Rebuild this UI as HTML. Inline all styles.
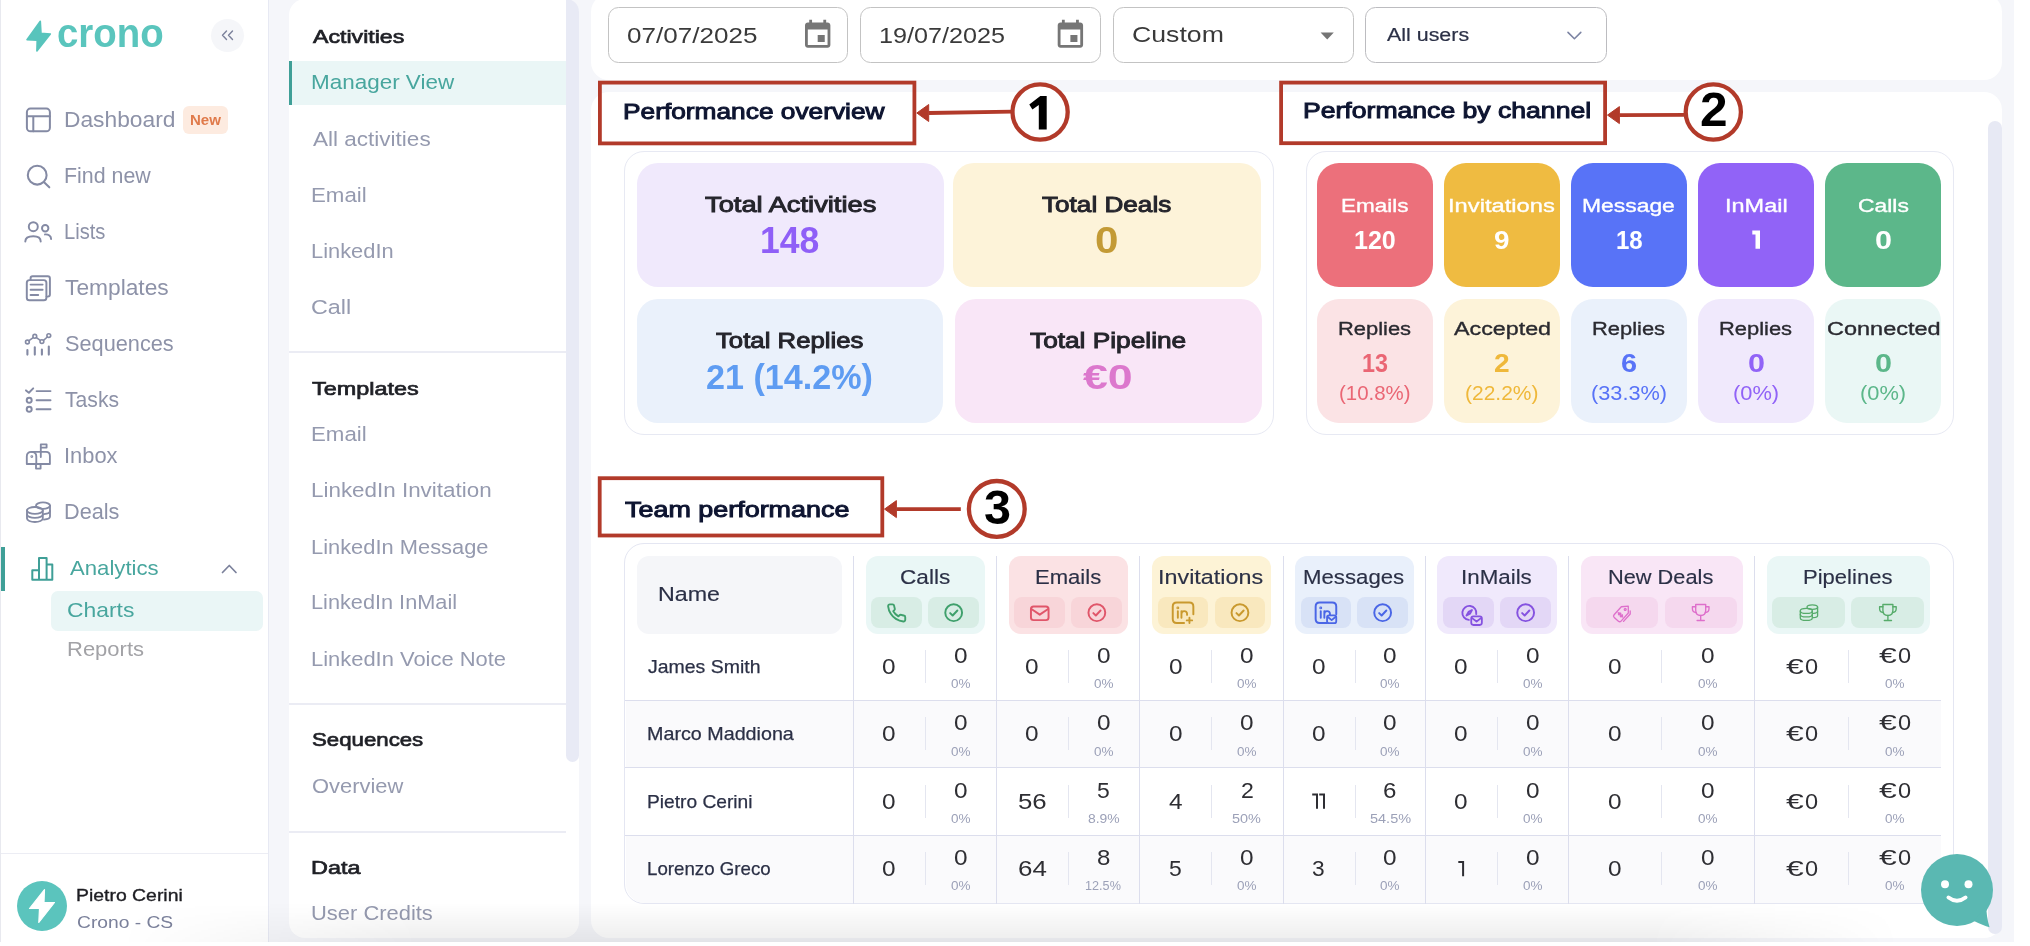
<!DOCTYPE html>
<html><head><meta charset="utf-8"><title>Crono Analytics</title>
<style>
html,body{margin:0;padding:0;background:#fff;}
body{width:2030px;height:946px;overflow:hidden;position:relative;font-family:"Liberation Sans", sans-serif;}
#app{position:absolute;left:0;top:0;width:2014px;height:941.5px;background:#f5f6fa;overflow:hidden;}
.b{position:absolute;}
.t{position:absolute;white-space:nowrap;transform-origin:0 0;display:block;}
#ov{position:absolute;left:0;top:0;}
#fade{position:absolute;left:0;top:903px;width:2014px;height:38.5px;background:linear-gradient(to bottom,rgba(0,0,0,0),rgba(0,0,0,0.07));-webkit-mask-image:linear-gradient(to right,rgba(0,0,0,0) 120px,rgba(0,0,0,1) 420px,rgba(0,0,0,1) 1650px,rgba(0,0,0,0) 1900px);mask-image:linear-gradient(to right,rgba(0,0,0,0) 120px,rgba(0,0,0,1) 420px,rgba(0,0,0,1) 1650px,rgba(0,0,0,0) 1900px);}
</style></head><body><div id="app">
<div class="b " style="left:0.00px;top:0.00px;width:268.50px;height:946.00px;background:#fff;"></div>
<div class="b " style="left:0.00px;top:0.00px;width:1.00px;height:946.00px;background:#e8e9ef;"></div>
<div class="b " style="left:268.00px;top:0.00px;width:1.00px;height:946.00px;background:#e7e9f3;"></div>
<div class="b " style="left:1.00px;top:852.50px;width:267.00px;height:1.30px;background:#ecedf4;"></div>
<span class="t " style="left:56.96px;top:14.00px;font-size:40.3px;line-height:40.3px;color:#5ac5bd;transform:scaleX(0.9530);font-weight:700;">crono</span>
<div class="b " style="left:210.50px;top:18.50px;width:33.00px;height:33.00px;background:#f5f6f9;border-radius:17px;"></div>
<span class="t " style="left:64.08px;top:110.00px;font-size:21.5px;line-height:21.5px;color:#8d92a8;transform:scaleX(1.0596);">Dashboard</span>
<span class="t " style="left:64.19px;top:166.00px;font-size:21.5px;line-height:21.5px;color:#8d92a8;transform:scaleX(0.9945);">Find new</span>
<span class="t " style="left:64.29px;top:222.00px;font-size:21.5px;line-height:21.5px;color:#8d92a8;transform:scaleX(0.9374);">Lists</span>
<span class="t " style="left:65.44px;top:278.00px;font-size:21.5px;line-height:21.5px;color:#8d92a8;transform:scaleX(1.0583);">Templates</span>
<span class="t " style="left:64.92px;top:334.00px;font-size:21.5px;line-height:21.5px;color:#8d92a8;transform:scaleX(1.0105);">Sequences</span>
<span class="t " style="left:65.48px;top:390.00px;font-size:21.5px;line-height:21.5px;color:#8d92a8;transform:scaleX(0.9842);">Tasks</span>
<span class="t " style="left:63.93px;top:446.00px;font-size:21.5px;line-height:21.5px;color:#8d92a8;transform:scaleX(1.0175);">Inbox</span>
<span class="t " style="left:64.17px;top:502.00px;font-size:21.5px;line-height:21.5px;color:#8d92a8;transform:scaleX(1.0084);">Deals</span>
<div class="b " style="left:183.00px;top:106.00px;width:44.50px;height:27.50px;background:#fdebe0;border-radius:6px;"></div>
<span class="t " style="left:189.52px;top:114.00px;font-size:13.8px;line-height:13.8px;color:#e07a4a;transform:scaleX(1.0897);font-weight:700;">New</span>
<div class="b " style="left:0.80px;top:547.00px;width:3.80px;height:43.50px;background:#3f9f97;"></div>
<span class="t " style="left:69.90px;top:558.00px;font-size:20.3px;line-height:20.3px;color:#48a69e;transform:scaleX(1.0921);">Analytics</span>
<div class="b " style="left:51.00px;top:591.00px;width:211.50px;height:39.50px;background:#eaf6f6;border-radius:7px;"></div>
<span class="t " style="left:67.05px;top:600.00px;font-size:20.3px;line-height:20.3px;color:#48a69e;transform:scaleX(1.1282);">Charts</span>
<span class="t " style="left:66.74px;top:639.00px;font-size:20.3px;line-height:20.3px;color:#a2a2a6;transform:scaleX(1.0842);">Reports</span>
<div class="b " style="left:17.00px;top:881.00px;width:50.00px;height:50.00px;background:#5bc4bd;border-radius:25px;"></div>
<span class="t " style="left:76.45px;top:887.00px;font-size:17.2px;line-height:17.2px;color:#1d1d22;transform:scaleX(1.1291);-webkit-text-stroke:0.35px #1d1d22;">Pietro Cerini</span>
<span class="t " style="left:77.04px;top:914.00px;font-size:17.2px;line-height:17.2px;color:#7b819b;transform:scaleX(1.1189);">Crono - CS</span>
<div class="b sub" style="left:289.00px;top:-1.00px;width:290.00px;height:939.00px;background:#fff;border-radius:16px;overflow:hidden;"></div>
<div class="b " style="left:566.00px;top:-1.00px;width:13.00px;height:763.00px;background:#e8eaf5;border-radius:0 13px 6.5px 6.5px;"></div>
<div class="b " style="left:289.00px;top:61.00px;width:277.00px;height:44.00px;background:#eaf6f6;"></div>
<div class="b " style="left:289.00px;top:61.00px;width:2.70px;height:44.00px;background:#3f9f97;"></div>
<div class="b " style="left:289.00px;top:351.30px;width:277.00px;height:1.40px;background:#ebecf4;"></div>
<div class="b " style="left:289.00px;top:703.30px;width:277.00px;height:1.40px;background:#ebecf4;"></div>
<div class="b " style="left:289.00px;top:831.30px;width:277.00px;height:1.40px;background:#ebecf4;"></div>
<span class="t " style="left:312.50px;top:28.00px;font-size:18.6px;line-height:18.6px;color:#1f2026;transform:scaleX(1.2444);-webkit-text-stroke:0.7px #1f2026;">Activities</span>
<span class="t " style="left:310.70px;top:73.00px;font-size:19.3px;line-height:19.3px;color:#48a69e;transform:scaleX(1.1647);">Manager View</span>
<span class="t " style="left:312.50px;top:130.00px;font-size:19.3px;line-height:19.3px;color:#959aaf;transform:scaleX(1.1680);">All activities</span>
<span class="t " style="left:310.72px;top:186.00px;font-size:19.3px;line-height:19.3px;color:#959aaf;transform:scaleX(1.1551);">Email</span>
<span class="t " style="left:310.75px;top:242.00px;font-size:19.3px;line-height:19.3px;color:#959aaf;transform:scaleX(1.1332);">LinkedIn</span>
<span class="t " style="left:311.33px;top:298.00px;font-size:19.3px;line-height:19.3px;color:#959aaf;transform:scaleX(1.2106);">Call</span>
<span class="t " style="left:312.03px;top:380.00px;font-size:18.6px;line-height:18.6px;color:#1f2026;transform:scaleX(1.2591);-webkit-text-stroke:0.7px #1f2026;">Templates</span>
<span class="t " style="left:310.72px;top:425.00px;font-size:19.3px;line-height:19.3px;color:#959aaf;transform:scaleX(1.1551);">Email</span>
<span class="t " style="left:310.71px;top:481.00px;font-size:19.3px;line-height:19.3px;color:#959aaf;transform:scaleX(1.1620);">LinkedIn Invitation</span>
<span class="t " style="left:310.75px;top:538.00px;font-size:19.3px;line-height:19.3px;color:#959aaf;transform:scaleX(1.1342);">LinkedIn Message</span>
<span class="t " style="left:310.76px;top:593.00px;font-size:19.3px;line-height:19.3px;color:#959aaf;transform:scaleX(1.1260);">LinkedIn InMail</span>
<span class="t " style="left:310.74px;top:650.00px;font-size:19.3px;line-height:19.3px;color:#959aaf;transform:scaleX(1.1373);">LinkedIn Voice Note</span>
<span class="t " style="left:311.50px;top:731.00px;font-size:18.6px;line-height:18.6px;color:#1f2026;transform:scaleX(1.1953);-webkit-text-stroke:0.7px #1f2026;">Sequences</span>
<span class="t " style="left:311.51px;top:777.00px;font-size:19.3px;line-height:19.3px;color:#959aaf;transform:scaleX(1.1368);">Overview</span>
<span class="t " style="left:310.63px;top:859.00px;font-size:18.6px;line-height:18.6px;color:#1f2026;transform:scaleX(1.2580);-webkit-text-stroke:0.7px #1f2026;">Data</span>
<span class="t " style="left:310.85px;top:904.00px;font-size:19.3px;line-height:19.3px;color:#959aaf;transform:scaleX(1.1371);">User Credits</span>
<div class="b " style="left:591.00px;top:-6.00px;width:1411.00px;height:86.00px;background:#fff;border-radius:18px;"></div>
<div class="b " style="left:591.00px;top:91.50px;width:1411.00px;height:846.50px;background:#fff;border-radius:18px;"></div>
<div class="b " style="left:1988.00px;top:120.50px;width:14.00px;height:813.50px;background:#e7e9f4;border-radius:7px;"></div>
<div class="b " style="left:608.00px;top:7.30px;width:240.40px;height:55.50px;border-radius:10.5px;border:1.5px solid #c3c3c3;box-sizing:border-box;"></div>
<div class="b " style="left:860.20px;top:7.30px;width:241.00px;height:55.50px;border-radius:10.5px;border:1.5px solid #c3c3c3;box-sizing:border-box;"></div>
<div class="b " style="left:1113.00px;top:7.30px;width:240.80px;height:55.50px;border-radius:10.5px;border:1.5px solid #c3c3c3;box-sizing:border-box;"></div>
<div class="b " style="left:1365.00px;top:7.30px;width:241.80px;height:55.50px;border-radius:10.5px;border:1.5px solid #bcbcc0;box-sizing:border-box;"></div>
<span class="t " style="left:626.56px;top:24.00px;font-size:22.8px;line-height:22.8px;color:#3a3a3a;transform:scaleX(1.1435);">07/07/2025</span>
<span class="t " style="left:878.51px;top:24.00px;font-size:22.8px;line-height:22.8px;color:#3a3a3a;transform:scaleX(1.1041);">19/07/2025</span>
<span class="t " style="left:1131.67px;top:25.00px;font-size:21.5px;line-height:21.5px;color:#3a3a3a;transform:scaleX(1.2403);">Custom</span>
<span class="t " style="left:1387.00px;top:25.00px;font-size:19.2px;line-height:19.2px;color:#2b3046;transform:scaleX(1.1157);-webkit-text-stroke:0.2px #2b3046;">All users</span>
<span class="t " style="left:622.90px;top:101.00px;font-size:22.4px;line-height:22.4px;color:#0e1531;transform:scaleX(1.1742);-webkit-text-stroke:1.0px #0e1531;">Performance overview</span>
<span class="t " style="left:1303.17px;top:100.00px;font-size:22.4px;line-height:22.4px;color:#0e1531;transform:scaleX(1.1871);-webkit-text-stroke:1.0px #0e1531;">Performance by channel</span>
<span class="t " style="left:624.96px;top:499.00px;font-size:22.4px;line-height:22.4px;color:#0e1531;transform:scaleX(1.2022);-webkit-text-stroke:1.0px #0e1531;">Team performance</span>
<div class="b " style="left:624.30px;top:150.80px;width:649.50px;height:284.70px;border-radius:20px;border:1.2px solid #e7e9f3;box-sizing:border-box;"></div>
<div class="b " style="left:637.00px;top:163.00px;width:307.40px;height:124.40px;background:#f0e9fc;border-radius:21px;"></div>
<div class="b " style="left:953.40px;top:163.00px;width:307.90px;height:124.40px;background:#fdf3d9;border-radius:21px;"></div>
<div class="b " style="left:637.00px;top:299.00px;width:306.20px;height:124.30px;background:#eaf1fb;border-radius:21px;"></div>
<div class="b " style="left:954.80px;top:299.00px;width:306.80px;height:124.30px;background:#f9e6f7;border-radius:21px;"></div>
<span class="t " style="left:705.45px;top:194.00px;font-size:22.3px;line-height:22.3px;color:#25252c;transform:scaleX(1.2232);-webkit-text-stroke:0.95px #25252c;">Total Activities</span>
<span class="t " style="left:1042.48px;top:194.00px;font-size:22.3px;line-height:22.3px;color:#25252c;transform:scaleX(1.1720);-webkit-text-stroke:0.95px #25252c;">Total Deals</span>
<span class="t " style="left:716.49px;top:330.00px;font-size:22.3px;line-height:22.3px;color:#25252c;transform:scaleX(1.1547);-webkit-text-stroke:0.95px #25252c;">Total Replies</span>
<span class="t " style="left:1030.07px;top:330.00px;font-size:22.3px;line-height:22.3px;color:#25252c;transform:scaleX(1.1775);-webkit-text-stroke:0.95px #25252c;">Total Pipeline</span>
<span class="t " style="left:759.87px;top:223.00px;font-size:36px;line-height:36px;color:#8f5ff7;transform:scaleX(0.9877);font-weight:700;">148</span>
<span class="t " style="left:1095.32px;top:223.00px;font-size:36px;line-height:36px;color:#c39a35;transform:scaleX(1.1696);font-weight:700;">0</span>
<span class="t " style="left:705.61px;top:360.00px;font-size:35.5px;line-height:35.5px;color:#5e9cf2;transform:scaleX(0.9616);font-weight:700;">21 (14.2%)</span>
<span class="t " style="left:1083.48px;top:360.00px;font-size:35.5px;line-height:35.5px;color:#dc78cd;transform:scaleX(1.2590);font-weight:700;">€0</span>
<div class="b " style="left:1305.50px;top:150.80px;width:648.50px;height:284.70px;border-radius:20px;border:1.2px solid #e7e9f3;box-sizing:border-box;"></div>
<div class="b " style="left:1317.20px;top:163.00px;width:116.00px;height:124.40px;background:#ec707b;border-radius:22px;"></div>
<div class="b " style="left:1317.20px;top:299.00px;width:116.00px;height:124.30px;background:#fbe3e5;border-radius:22px;"></div>
<span class="t " style="left:1340.90px;top:197.00px;font-size:18.8px;line-height:18.8px;color:#fff;transform:scaleX(1.1984);-webkit-text-stroke:0.35px #fff;">Emails</span>
<span class="t " style="left:1354.10px;top:228.00px;font-size:25.5px;line-height:25.5px;color:#fff;transform:scaleX(0.9823);font-weight:700;">120</span>
<span class="t " style="left:1338.15px;top:320.00px;font-size:18.8px;line-height:18.8px;color:#2a2a30;transform:scaleX(1.1662);-webkit-text-stroke:0.35px #2a2a30;">Replies</span>
<span class="t " style="left:1361.95px;top:351.00px;font-size:25.5px;line-height:25.5px;color:#ea6674;transform:scaleX(0.9157);font-weight:700;">13</span>
<span class="t " style="left:1339.37px;top:384.00px;font-size:19.3px;line-height:19.3px;color:#ea6674;transform:scaleX(1.0608);">(10.8%)</span>
<div class="b " style="left:1444.20px;top:163.00px;width:116.00px;height:124.40px;background:#efbb41;border-radius:22px;"></div>
<div class="b " style="left:1444.20px;top:299.00px;width:116.00px;height:124.30px;background:#fdf3d9;border-radius:22px;"></div>
<span class="t " style="left:1448.06px;top:197.00px;font-size:18.8px;line-height:18.8px;color:#fff;transform:scaleX(1.2630);-webkit-text-stroke:0.35px #fff;">Invitations</span>
<span class="t " style="left:1494.48px;top:228.00px;font-size:25.5px;line-height:25.5px;color:#fff;transform:scaleX(1.0916);font-weight:700;">9</span>
<span class="t " style="left:1454.40px;top:320.00px;font-size:18.8px;line-height:18.8px;color:#2a2a30;transform:scaleX(1.2388);-webkit-text-stroke:0.35px #2a2a30;">Accepted</span>
<span class="t " style="left:1494.47px;top:351.00px;font-size:25.5px;line-height:25.5px;color:#efb83a;transform:scaleX(1.1029);font-weight:700;">2</span>
<span class="t " style="left:1465.44px;top:384.00px;font-size:19.3px;line-height:19.3px;color:#efb83a;transform:scaleX(1.0884);">(22.2%)</span>
<div class="b " style="left:1571.20px;top:163.00px;width:116.00px;height:124.40px;background:#5873f7;border-radius:22px;"></div>
<div class="b " style="left:1571.20px;top:299.00px;width:116.00px;height:124.30px;background:#eaf1fb;border-radius:22px;"></div>
<span class="t " style="left:1582.37px;top:197.00px;font-size:18.8px;line-height:18.8px;color:#fff;transform:scaleX(1.2181);-webkit-text-stroke:0.35px #fff;">Message</span>
<span class="t " style="left:1615.51px;top:228.00px;font-size:25.5px;line-height:25.5px;color:#fff;transform:scaleX(0.9419);font-weight:700;">18</span>
<span class="t " style="left:1592.15px;top:320.00px;font-size:18.8px;line-height:18.8px;color:#2a2a30;transform:scaleX(1.1662);-webkit-text-stroke:0.35px #2a2a30;">Replies</span>
<span class="t " style="left:1621.19px;top:351.00px;font-size:25.5px;line-height:25.5px;color:#5873f7;transform:scaleX(1.1320);font-weight:700;">6</span>
<span class="t " style="left:1591.15px;top:384.00px;font-size:19.3px;line-height:19.3px;color:#5873f7;transform:scaleX(1.1267);">(33.3%)</span>
<div class="b " style="left:1698.20px;top:163.00px;width:116.00px;height:124.40px;background:#9163f7;border-radius:22px;"></div>
<div class="b " style="left:1698.20px;top:299.00px;width:116.00px;height:124.30px;background:#f0e9fc;border-radius:22px;"></div>
<span class="t " style="left:1724.58px;top:197.00px;font-size:18.8px;line-height:18.8px;color:#fff;transform:scaleX(1.2503);-webkit-text-stroke:0.35px #fff;">InMail</span>
<span class="t " style="left:1719.15px;top:320.00px;font-size:18.8px;line-height:18.8px;color:#2a2a30;transform:scaleX(1.1662);-webkit-text-stroke:0.35px #2a2a30;">Replies</span>
<span class="t " style="left:1747.73px;top:351.00px;font-size:25.5px;line-height:25.5px;color:#9163f7;transform:scaleX(1.1971);font-weight:700;">0</span>
<span class="t " style="left:1733.14px;top:384.00px;font-size:19.3px;line-height:19.3px;color:#9163f7;transform:scaleX(1.1326);">(0%)</span>
<div class="b " style="left:1825.20px;top:163.00px;width:116.00px;height:124.40px;background:#5cb78a;border-radius:22px;"></div>
<div class="b " style="left:1825.20px;top:299.00px;width:116.00px;height:124.30px;background:#eaf7f5;border-radius:22px;"></div>
<span class="t " style="left:1857.56px;top:197.00px;font-size:18.8px;line-height:18.8px;color:#fff;transform:scaleX(1.2179);-webkit-text-stroke:0.35px #fff;">Calls</span>
<span class="t " style="left:1874.73px;top:228.00px;font-size:25.5px;line-height:25.5px;color:#fff;transform:scaleX(1.1971);font-weight:700;">0</span>
<span class="t " style="left:1826.52px;top:320.00px;font-size:18.8px;line-height:18.8px;color:#2a2a30;transform:scaleX(1.2509);-webkit-text-stroke:0.35px #2a2a30;">Connected</span>
<span class="t " style="left:1874.73px;top:351.00px;font-size:25.5px;line-height:25.5px;color:#5cb78a;transform:scaleX(1.1971);font-weight:700;">0</span>
<span class="t " style="left:1860.14px;top:384.00px;font-size:19.3px;line-height:19.3px;color:#5cb78a;transform:scaleX(1.1326);">(0%)</span>
<div class="b " style="left:624.30px;top:542.70px;width:1329.70px;height:361.60px;border-radius:20px;border:1.2px solid #e4e6f2;box-sizing:border-box;"></div>
<div class="b " style="left:625.50px;top:700.50px;width:1315.80px;height:67.50px;background:#fafafc;"></div>
<div class="b " style="left:625.50px;top:835.50px;width:1315.80px;height:67.80px;background:#fafafc;border-bottom-left-radius:19px;"></div>
<div class="b " style="left:625.00px;top:700.00px;width:1316.30px;height:1.30px;background:#dcdeed;"></div>
<div class="b " style="left:625.00px;top:767.00px;width:1316.30px;height:1.30px;background:#dcdeed;"></div>
<div class="b " style="left:625.00px;top:835.00px;width:1316.30px;height:1.30px;background:#dcdeed;"></div>
<div class="b " style="left:853.00px;top:555.50px;width:1.30px;height:348.00px;background:#dcdeed;"></div>
<div class="b " style="left:996.00px;top:555.50px;width:1.30px;height:348.00px;background:#dcdeed;"></div>
<div class="b " style="left:1139.00px;top:555.50px;width:1.30px;height:348.00px;background:#dcdeed;"></div>
<div class="b " style="left:1283.00px;top:555.50px;width:1.30px;height:348.00px;background:#dcdeed;"></div>
<div class="b " style="left:1425.00px;top:555.50px;width:1.30px;height:348.00px;background:#dcdeed;"></div>
<div class="b " style="left:1568.00px;top:555.50px;width:1.30px;height:348.00px;background:#dcdeed;"></div>
<div class="b " style="left:1754.00px;top:555.50px;width:1.30px;height:348.00px;background:#dcdeed;"></div>
<div class="b " style="left:637.00px;top:555.50px;width:205.00px;height:78.10px;background:#f5f6f9;border-radius:12px;"></div>
<span class="t " style="left:657.94px;top:585.00px;font-size:19.3px;line-height:19.3px;color:#2b3046;transform:scaleX(1.2056);-webkit-text-stroke:0.15px #2b3046;">Name</span>
<div class="b " style="left:865.50px;top:555.50px;width:119.30px;height:78.10px;background:#eaf7f6;border-radius:12px;"></div>
<span class="t " style="left:899.87px;top:568.00px;font-size:19.3px;line-height:19.3px;color:#2b3046;transform:scaleX(1.1719);-webkit-text-stroke:0.15px #2b3046;">Calls</span>
<div class="b " style="left:871.10px;top:597.30px;width:51.05px;height:30.70px;background:#d8ede5;border-radius:8px;"></div>
<div class="b " style="left:928.15px;top:597.30px;width:51.05px;height:30.70px;background:#d8ede5;border-radius:8px;"></div>
<div class="b " style="left:1008.60px;top:555.50px;width:119.40px;height:78.10px;background:#fbe2e4;border-radius:12px;"></div>
<span class="t " style="left:1034.53px;top:568.00px;font-size:19.3px;line-height:19.3px;color:#2b3046;transform:scaleX(1.1440);-webkit-text-stroke:0.15px #2b3046;">Emails</span>
<div class="b " style="left:1014.20px;top:597.30px;width:51.10px;height:30.70px;background:#f8d5d9;border-radius:8px;"></div>
<div class="b " style="left:1071.30px;top:597.30px;width:51.10px;height:30.70px;background:#f8d5d9;border-radius:8px;"></div>
<div class="b " style="left:1152.00px;top:555.50px;width:119.00px;height:78.10px;background:#fdf3d6;border-radius:12px;"></div>
<span class="t " style="left:1157.60px;top:568.00px;font-size:19.3px;line-height:19.3px;color:#2b3046;transform:scaleX(1.2102);-webkit-text-stroke:0.15px #2b3046;">Invitations</span>
<div class="b " style="left:1157.60px;top:597.30px;width:50.90px;height:30.70px;background:#f9e8be;border-radius:8px;"></div>
<div class="b " style="left:1214.50px;top:597.30px;width:50.90px;height:30.70px;background:#f9e8be;border-radius:8px;"></div>
<div class="b " style="left:1295.00px;top:555.50px;width:118.60px;height:78.10px;background:#e9f0fb;border-radius:12px;"></div>
<span class="t " style="left:1303.02px;top:568.00px;font-size:19.3px;line-height:19.3px;color:#2b3046;transform:scaleX(1.1517);-webkit-text-stroke:0.15px #2b3046;">Messages</span>
<div class="b " style="left:1300.60px;top:597.30px;width:50.70px;height:30.70px;background:#d8e2f6;border-radius:8px;"></div>
<div class="b " style="left:1357.30px;top:597.30px;width:50.70px;height:30.70px;background:#d8e2f6;border-radius:8px;"></div>
<div class="b " style="left:1437.40px;top:555.50px;width:119.40px;height:78.10px;background:#f0e9fc;border-radius:12px;"></div>
<span class="t " style="left:1460.69px;top:568.00px;font-size:19.3px;line-height:19.3px;color:#2b3046;transform:scaleX(1.1588);-webkit-text-stroke:0.15px #2b3046;">InMails</span>
<div class="b " style="left:1443.00px;top:597.30px;width:51.10px;height:30.70px;background:#e3d7f6;border-radius:8px;"></div>
<div class="b " style="left:1500.10px;top:597.30px;width:51.10px;height:30.70px;background:#e3d7f6;border-radius:8px;"></div>
<div class="b " style="left:1580.50px;top:555.50px;width:162.00px;height:78.10px;background:#f9e6f6;border-radius:12px;"></div>
<span class="t " style="left:1608.06px;top:568.00px;font-size:19.3px;line-height:19.3px;color:#2b3046;transform:scaleX(1.1296);-webkit-text-stroke:0.15px #2b3046;">New Deals</span>
<div class="b " style="left:1586.10px;top:597.30px;width:72.40px;height:30.70px;background:#f5d8ee;border-radius:8px;"></div>
<div class="b " style="left:1664.50px;top:597.30px;width:72.40px;height:30.70px;background:#f5d8ee;border-radius:8px;"></div>
<div class="b " style="left:1766.80px;top:555.50px;width:163.20px;height:78.10px;background:#eaf7f6;border-radius:12px;"></div>
<span class="t " style="left:1802.94px;top:568.00px;font-size:19.3px;line-height:19.3px;color:#2b3046;transform:scaleX(1.1427);-webkit-text-stroke:0.15px #2b3046;">Pipelines</span>
<div class="b " style="left:1772.40px;top:597.30px;width:73.00px;height:30.70px;background:#d8ede5;border-radius:8px;"></div>
<div class="b " style="left:1851.40px;top:597.30px;width:73.00px;height:30.70px;background:#d8ede5;border-radius:8px;"></div>
<span class="t " style="left:648.21px;top:657.00px;font-size:19px;line-height:19px;color:#2b3046;transform:scaleX(1.0249);-webkit-text-stroke:0.25px #2b3046;">James Smith</span>
<div class="b " style="left:925.00px;top:650.00px;width:1.20px;height:33.30px;background:#e4e6f0;"></div>
<span class="t " style="left:882.38px;top:656.00px;font-size:22.6px;line-height:22.6px;color:#2e2e33;transform:scaleX(1.0785);">0</span>
<span class="t " style="left:953.77px;top:645.00px;font-size:22.6px;line-height:22.6px;color:#2e2e33;transform:scaleX(1.0785);">0</span>
<span class="t " style="left:950.81px;top:677.00px;font-size:13.6px;line-height:13.6px;color:#9ca1b8;transform:scaleX(0.9929);">0%</span>
<div class="b " style="left:1068.00px;top:650.00px;width:1.20px;height:33.30px;background:#e4e6f0;"></div>
<span class="t " style="left:1025.38px;top:656.00px;font-size:22.6px;line-height:22.6px;color:#2e2e33;transform:scaleX(1.0785);">0</span>
<span class="t " style="left:1096.78px;top:645.00px;font-size:22.6px;line-height:22.6px;color:#2e2e33;transform:scaleX(1.0785);">0</span>
<span class="t " style="left:1093.81px;top:677.00px;font-size:13.6px;line-height:13.6px;color:#9ca1b8;transform:scaleX(0.9929);">0%</span>
<div class="b " style="left:1211.00px;top:650.00px;width:1.20px;height:33.30px;background:#e4e6f0;"></div>
<span class="t " style="left:1168.68px;top:656.00px;font-size:22.6px;line-height:22.6px;color:#2e2e33;transform:scaleX(1.0785);">0</span>
<span class="t " style="left:1240.08px;top:645.00px;font-size:22.6px;line-height:22.6px;color:#2e2e33;transform:scaleX(1.0785);">0</span>
<span class="t " style="left:1237.11px;top:677.00px;font-size:13.6px;line-height:13.6px;color:#9ca1b8;transform:scaleX(0.9929);">0%</span>
<div class="b " style="left:1355.00px;top:650.00px;width:1.20px;height:33.30px;background:#e4e6f0;"></div>
<span class="t " style="left:1311.98px;top:656.00px;font-size:22.6px;line-height:22.6px;color:#2e2e33;transform:scaleX(1.0785);">0</span>
<span class="t " style="left:1383.38px;top:645.00px;font-size:22.6px;line-height:22.6px;color:#2e2e33;transform:scaleX(1.0785);">0</span>
<span class="t " style="left:1380.41px;top:677.00px;font-size:13.6px;line-height:13.6px;color:#9ca1b8;transform:scaleX(0.9929);">0%</span>
<div class="b " style="left:1497.00px;top:650.00px;width:1.20px;height:33.30px;background:#e4e6f0;"></div>
<span class="t " style="left:1454.48px;top:656.00px;font-size:22.6px;line-height:22.6px;color:#2e2e33;transform:scaleX(1.0785);">0</span>
<span class="t " style="left:1525.88px;top:645.00px;font-size:22.6px;line-height:22.6px;color:#2e2e33;transform:scaleX(1.0785);">0</span>
<span class="t " style="left:1522.91px;top:677.00px;font-size:13.6px;line-height:13.6px;color:#9ca1b8;transform:scaleX(0.9929);">0%</span>
<div class="b " style="left:1661.00px;top:650.00px;width:1.20px;height:33.30px;background:#e4e6f0;"></div>
<span class="t " style="left:1608.08px;top:656.00px;font-size:22.6px;line-height:22.6px;color:#2e2e33;transform:scaleX(1.0785);">0</span>
<span class="t " style="left:1701.28px;top:645.00px;font-size:22.6px;line-height:22.6px;color:#2e2e33;transform:scaleX(1.0785);">0</span>
<span class="t " style="left:1698.31px;top:677.00px;font-size:13.6px;line-height:13.6px;color:#9ca1b8;transform:scaleX(0.9929);">0%</span>
<div class="b " style="left:1848.00px;top:650.00px;width:1.20px;height:33.30px;background:#e4e6f0;"></div>
<span class="t " style="left:1785.68px;top:656.00px;font-size:22.6px;line-height:22.6px;color:#2e2e33;transform:scaleX(1.4109);">€</span>
<span class="t " style="left:1804.56px;top:656.00px;font-size:22.6px;line-height:22.6px;color:#2e2e33;transform:scaleX(1.0417);">0</span>
<span class="t " style="left:1879.08px;top:645.00px;font-size:22.6px;line-height:22.6px;color:#2e2e33;transform:scaleX(1.4109);">€</span>
<span class="t " style="left:1897.96px;top:645.00px;font-size:22.6px;line-height:22.6px;color:#2e2e33;transform:scaleX(1.0417);">0</span>
<span class="t " style="left:1885.01px;top:677.00px;font-size:13.6px;line-height:13.6px;color:#9ca1b8;transform:scaleX(0.9929);">0%</span>
<span class="t " style="left:646.92px;top:724.00px;font-size:19px;line-height:19px;color:#2b3046;transform:scaleX(1.0376);-webkit-text-stroke:0.25px #2b3046;">Marco Maddiona</span>
<div class="b " style="left:925.00px;top:717.00px;width:1.20px;height:33.30px;background:#e4e6f0;"></div>
<span class="t " style="left:882.38px;top:723.00px;font-size:22.6px;line-height:22.6px;color:#2e2e33;transform:scaleX(1.0785);">0</span>
<span class="t " style="left:953.77px;top:712.00px;font-size:22.6px;line-height:22.6px;color:#2e2e33;transform:scaleX(1.0785);">0</span>
<span class="t " style="left:950.81px;top:745.00px;font-size:13.6px;line-height:13.6px;color:#9ca1b8;transform:scaleX(0.9929);">0%</span>
<div class="b " style="left:1068.00px;top:717.00px;width:1.20px;height:33.30px;background:#e4e6f0;"></div>
<span class="t " style="left:1025.38px;top:723.00px;font-size:22.6px;line-height:22.6px;color:#2e2e33;transform:scaleX(1.0785);">0</span>
<span class="t " style="left:1096.78px;top:712.00px;font-size:22.6px;line-height:22.6px;color:#2e2e33;transform:scaleX(1.0785);">0</span>
<span class="t " style="left:1093.81px;top:745.00px;font-size:13.6px;line-height:13.6px;color:#9ca1b8;transform:scaleX(0.9929);">0%</span>
<div class="b " style="left:1211.00px;top:717.00px;width:1.20px;height:33.30px;background:#e4e6f0;"></div>
<span class="t " style="left:1168.68px;top:723.00px;font-size:22.6px;line-height:22.6px;color:#2e2e33;transform:scaleX(1.0785);">0</span>
<span class="t " style="left:1240.08px;top:712.00px;font-size:22.6px;line-height:22.6px;color:#2e2e33;transform:scaleX(1.0785);">0</span>
<span class="t " style="left:1237.11px;top:745.00px;font-size:13.6px;line-height:13.6px;color:#9ca1b8;transform:scaleX(0.9929);">0%</span>
<div class="b " style="left:1355.00px;top:717.00px;width:1.20px;height:33.30px;background:#e4e6f0;"></div>
<span class="t " style="left:1311.98px;top:723.00px;font-size:22.6px;line-height:22.6px;color:#2e2e33;transform:scaleX(1.0785);">0</span>
<span class="t " style="left:1383.38px;top:712.00px;font-size:22.6px;line-height:22.6px;color:#2e2e33;transform:scaleX(1.0785);">0</span>
<span class="t " style="left:1380.41px;top:745.00px;font-size:13.6px;line-height:13.6px;color:#9ca1b8;transform:scaleX(0.9929);">0%</span>
<div class="b " style="left:1497.00px;top:717.00px;width:1.20px;height:33.30px;background:#e4e6f0;"></div>
<span class="t " style="left:1454.48px;top:723.00px;font-size:22.6px;line-height:22.6px;color:#2e2e33;transform:scaleX(1.0785);">0</span>
<span class="t " style="left:1525.88px;top:712.00px;font-size:22.6px;line-height:22.6px;color:#2e2e33;transform:scaleX(1.0785);">0</span>
<span class="t " style="left:1522.91px;top:745.00px;font-size:13.6px;line-height:13.6px;color:#9ca1b8;transform:scaleX(0.9929);">0%</span>
<div class="b " style="left:1661.00px;top:717.00px;width:1.20px;height:33.30px;background:#e4e6f0;"></div>
<span class="t " style="left:1608.08px;top:723.00px;font-size:22.6px;line-height:22.6px;color:#2e2e33;transform:scaleX(1.0785);">0</span>
<span class="t " style="left:1701.28px;top:712.00px;font-size:22.6px;line-height:22.6px;color:#2e2e33;transform:scaleX(1.0785);">0</span>
<span class="t " style="left:1698.31px;top:745.00px;font-size:13.6px;line-height:13.6px;color:#9ca1b8;transform:scaleX(0.9929);">0%</span>
<div class="b " style="left:1848.00px;top:717.00px;width:1.20px;height:33.30px;background:#e4e6f0;"></div>
<span class="t " style="left:1785.68px;top:723.00px;font-size:22.6px;line-height:22.6px;color:#2e2e33;transform:scaleX(1.4109);">€</span>
<span class="t " style="left:1804.56px;top:723.00px;font-size:22.6px;line-height:22.6px;color:#2e2e33;transform:scaleX(1.0417);">0</span>
<span class="t " style="left:1879.08px;top:712.00px;font-size:22.6px;line-height:22.6px;color:#2e2e33;transform:scaleX(1.4109);">€</span>
<span class="t " style="left:1897.96px;top:712.00px;font-size:22.6px;line-height:22.6px;color:#2e2e33;transform:scaleX(1.0417);">0</span>
<span class="t " style="left:1885.01px;top:745.00px;font-size:13.6px;line-height:13.6px;color:#9ca1b8;transform:scaleX(0.9929);">0%</span>
<span class="t " style="left:646.97px;top:792.00px;font-size:19px;line-height:19px;color:#2b3046;transform:scaleX(1.0094);-webkit-text-stroke:0.25px #2b3046;">Pietro Cerini</span>
<div class="b " style="left:925.00px;top:784.50px;width:1.20px;height:33.30px;background:#e4e6f0;"></div>
<span class="t " style="left:882.38px;top:791.00px;font-size:22.6px;line-height:22.6px;color:#2e2e33;transform:scaleX(1.0785);">0</span>
<span class="t " style="left:953.77px;top:780.00px;font-size:22.6px;line-height:22.6px;color:#2e2e33;transform:scaleX(1.0785);">0</span>
<span class="t " style="left:950.81px;top:812.00px;font-size:13.6px;line-height:13.6px;color:#9ca1b8;transform:scaleX(0.9929);">0%</span>
<div class="b " style="left:1068.00px;top:784.50px;width:1.20px;height:33.30px;background:#e4e6f0;"></div>
<span class="t " style="left:1017.87px;top:791.00px;font-size:22.6px;line-height:22.6px;color:#2e2e33;transform:scaleX(1.1427);">56</span>
<span class="t " style="left:1097.23px;top:780.00px;font-size:22.6px;line-height:22.6px;color:#2e2e33;transform:scaleX(1.0154);">5</span>
<span class="t " style="left:1087.67px;top:812.00px;font-size:13.6px;line-height:13.6px;color:#9ca1b8;transform:scaleX(1.0227);">8.9%</span>
<div class="b " style="left:1211.00px;top:784.50px;width:1.20px;height:33.30px;background:#e4e6f0;"></div>
<span class="t " style="left:1168.86px;top:791.00px;font-size:22.6px;line-height:22.6px;color:#2e2e33;transform:scaleX(1.0777);">4</span>
<span class="t " style="left:1240.50px;top:780.00px;font-size:22.6px;line-height:22.6px;color:#2e2e33;transform:scaleX(1.0211);">2</span>
<span class="t " style="left:1232.42px;top:812.00px;font-size:13.6px;line-height:13.6px;color:#9ca1b8;transform:scaleX(1.0619);">50%</span>
<div class="b " style="left:1355.00px;top:784.50px;width:1.20px;height:33.30px;background:#e4e6f0;"></div>
<span class="t " style="left:1383.40px;top:780.00px;font-size:22.6px;line-height:22.6px;color:#2e2e33;transform:scaleX(1.0658);">6</span>
<span class="t " style="left:1369.62px;top:812.00px;font-size:13.6px;line-height:13.6px;color:#9ca1b8;transform:scaleX(1.0656);">54.5%</span>
<div class="b " style="left:1497.00px;top:784.50px;width:1.20px;height:33.30px;background:#e4e6f0;"></div>
<span class="t " style="left:1454.48px;top:791.00px;font-size:22.6px;line-height:22.6px;color:#2e2e33;transform:scaleX(1.0785);">0</span>
<span class="t " style="left:1525.88px;top:780.00px;font-size:22.6px;line-height:22.6px;color:#2e2e33;transform:scaleX(1.0785);">0</span>
<span class="t " style="left:1522.91px;top:812.00px;font-size:13.6px;line-height:13.6px;color:#9ca1b8;transform:scaleX(0.9929);">0%</span>
<div class="b " style="left:1661.00px;top:784.50px;width:1.20px;height:33.30px;background:#e4e6f0;"></div>
<span class="t " style="left:1608.08px;top:791.00px;font-size:22.6px;line-height:22.6px;color:#2e2e33;transform:scaleX(1.0785);">0</span>
<span class="t " style="left:1701.28px;top:780.00px;font-size:22.6px;line-height:22.6px;color:#2e2e33;transform:scaleX(1.0785);">0</span>
<span class="t " style="left:1698.31px;top:812.00px;font-size:13.6px;line-height:13.6px;color:#9ca1b8;transform:scaleX(0.9929);">0%</span>
<div class="b " style="left:1848.00px;top:784.50px;width:1.20px;height:33.30px;background:#e4e6f0;"></div>
<span class="t " style="left:1785.68px;top:791.00px;font-size:22.6px;line-height:22.6px;color:#2e2e33;transform:scaleX(1.4109);">€</span>
<span class="t " style="left:1804.56px;top:791.00px;font-size:22.6px;line-height:22.6px;color:#2e2e33;transform:scaleX(1.0417);">0</span>
<span class="t " style="left:1879.08px;top:780.00px;font-size:22.6px;line-height:22.6px;color:#2e2e33;transform:scaleX(1.4109);">€</span>
<span class="t " style="left:1897.96px;top:780.00px;font-size:22.6px;line-height:22.6px;color:#2e2e33;transform:scaleX(1.0417);">0</span>
<span class="t " style="left:1885.01px;top:812.00px;font-size:13.6px;line-height:13.6px;color:#9ca1b8;transform:scaleX(0.9929);">0%</span>
<span class="t " style="left:647.00px;top:859.00px;font-size:19px;line-height:19px;color:#2b3046;transform:scaleX(0.9846);-webkit-text-stroke:0.25px #2b3046;">Lorenzo Greco</span>
<div class="b " style="left:925.00px;top:852.00px;width:1.20px;height:33.30px;background:#e4e6f0;"></div>
<span class="t " style="left:882.38px;top:858.00px;font-size:22.6px;line-height:22.6px;color:#2e2e33;transform:scaleX(1.0785);">0</span>
<span class="t " style="left:953.77px;top:847.00px;font-size:22.6px;line-height:22.6px;color:#2e2e33;transform:scaleX(1.0785);">0</span>
<span class="t " style="left:950.81px;top:879.00px;font-size:13.6px;line-height:13.6px;color:#9ca1b8;transform:scaleX(0.9929);">0%</span>
<div class="b " style="left:1068.00px;top:852.00px;width:1.20px;height:33.30px;background:#e4e6f0;"></div>
<span class="t " style="left:1017.55px;top:858.00px;font-size:22.6px;line-height:22.6px;color:#2e2e33;transform:scaleX(1.1470);">64</span>
<span class="t " style="left:1096.87px;top:847.00px;font-size:22.6px;line-height:22.6px;color:#2e2e33;transform:scaleX(1.0638);">8</span>
<span class="t " style="left:1085.40px;top:879.00px;font-size:13.6px;line-height:13.6px;color:#9ca1b8;transform:scaleX(0.9309);">12.5%</span>
<div class="b " style="left:1211.00px;top:852.00px;width:1.20px;height:33.30px;background:#e4e6f0;"></div>
<span class="t " style="left:1169.13px;top:858.00px;font-size:22.6px;line-height:22.6px;color:#2e2e33;transform:scaleX(1.0154);">5</span>
<span class="t " style="left:1240.08px;top:847.00px;font-size:22.6px;line-height:22.6px;color:#2e2e33;transform:scaleX(1.0785);">0</span>
<span class="t " style="left:1237.11px;top:879.00px;font-size:13.6px;line-height:13.6px;color:#9ca1b8;transform:scaleX(0.9929);">0%</span>
<div class="b " style="left:1355.00px;top:852.00px;width:1.20px;height:33.30px;background:#e4e6f0;"></div>
<span class="t " style="left:1312.49px;top:858.00px;font-size:22.6px;line-height:22.6px;color:#2e2e33;transform:scaleX(1.0061);">3</span>
<span class="t " style="left:1383.38px;top:847.00px;font-size:22.6px;line-height:22.6px;color:#2e2e33;transform:scaleX(1.0785);">0</span>
<span class="t " style="left:1380.41px;top:879.00px;font-size:13.6px;line-height:13.6px;color:#9ca1b8;transform:scaleX(0.9929);">0%</span>
<div class="b " style="left:1497.00px;top:852.00px;width:1.20px;height:33.30px;background:#e4e6f0;"></div>
<span class="t " style="left:1525.88px;top:847.00px;font-size:22.6px;line-height:22.6px;color:#2e2e33;transform:scaleX(1.0785);">0</span>
<span class="t " style="left:1522.91px;top:879.00px;font-size:13.6px;line-height:13.6px;color:#9ca1b8;transform:scaleX(0.9929);">0%</span>
<div class="b " style="left:1661.00px;top:852.00px;width:1.20px;height:33.30px;background:#e4e6f0;"></div>
<span class="t " style="left:1608.08px;top:858.00px;font-size:22.6px;line-height:22.6px;color:#2e2e33;transform:scaleX(1.0785);">0</span>
<span class="t " style="left:1701.28px;top:847.00px;font-size:22.6px;line-height:22.6px;color:#2e2e33;transform:scaleX(1.0785);">0</span>
<span class="t " style="left:1698.31px;top:879.00px;font-size:13.6px;line-height:13.6px;color:#9ca1b8;transform:scaleX(0.9929);">0%</span>
<div class="b " style="left:1848.00px;top:852.00px;width:1.20px;height:33.30px;background:#e4e6f0;"></div>
<span class="t " style="left:1785.68px;top:858.00px;font-size:22.6px;line-height:22.6px;color:#2e2e33;transform:scaleX(1.4109);">€</span>
<span class="t " style="left:1804.56px;top:858.00px;font-size:22.6px;line-height:22.6px;color:#2e2e33;transform:scaleX(1.0417);">0</span>
<span class="t " style="left:1879.08px;top:847.00px;font-size:22.6px;line-height:22.6px;color:#2e2e33;transform:scaleX(1.4109);">€</span>
<span class="t " style="left:1897.96px;top:847.00px;font-size:22.6px;line-height:22.6px;color:#2e2e33;transform:scaleX(1.0417);">0</span>
<span class="t " style="left:1885.01px;top:879.00px;font-size:13.6px;line-height:13.6px;color:#9ca1b8;transform:scaleX(0.9929);">0%</span>
<div id="fade"></div>
<svg id="ov" width="2014" height="942" viewBox="0 0 2014 942">
<path d="M40.3 21.2 L27 39.6 L37.2 40.3 L36.9 51 L50.3 34 L41 33.4 Z" fill="#58c4bc" stroke="#58c4bc" stroke-width="1.6" stroke-linejoin="round"/>
<path d="M226.5 31 L222.5 35.3 L226.5 39.6 M232.5 31 L228.5 35.3 L232.5 39.6" fill="none" stroke="#7b819b" stroke-width="1.4" stroke-linecap="round" stroke-linejoin="round"/>
<path d="M222.5 572.5 L229.3 565.5 L236 572.5" fill="none" stroke="#7b819b" stroke-width="1.7" stroke-linecap="round" stroke-linejoin="round"/>
<path d="M44.5 889.5 L29.5 908.5 L39.5 908.5 L38.8 922.5 L54.5 902.5 L44 902.5 Z" fill="#fff" stroke="#fff" stroke-width="1.2" stroke-linejoin="round"/>
<path transform="translate(800.77,18.30) scale(1.41,1.4)" d="M17 12h-5v5h5v-5zM16 1v2H8V1H6v2H5c-1.11 0-1.99.9-1.99 2L3 19c0 1.1.89 2 2 2h14c1.1 0 2-.9 2-2V5c0-1.1-.9-2-2-2h-1V1h-2zm3 18H5V8h14v11z" fill="#767676"/>
<path transform="translate(1053.47,18.30) scale(1.41,1.4)" d="M17 12h-5v5h5v-5zM16 1v2H8V1H6v2H5c-1.11 0-1.99.9-1.99 2L3 19c0 1.1.89 2 2 2h14c1.1 0 2-.9 2-2V5c0-1.1-.9-2-2-2h-1V1h-2zm3 18H5V8h14v11z" fill="#767676"/>
<path d="M1320.6 32.6 L1333.8 32.6 L1327.2 39.4 Z" fill="#757575"/>
<path d="M1568 32.4 L1574.4 38.7 L1580.8 32.4" fill="none" stroke="#7c84a3" stroke-width="1.6" stroke-linecap="round" stroke-linejoin="round"/>
<path d="M1752.30 230.5 H1760.00 V248.7 H1755.50 V234.4 H1752.30 Z" fill="#fff"/>
<rect x="599.9" y="82.6" width="314.5" height="60.8" fill="none" stroke="#b23a2a" stroke-width="3.8"/>
<rect x="1281.1" y="82.6" width="324" height="60.6" fill="none" stroke="#b23a2a" stroke-width="3.8"/>
<rect x="599.7" y="478.2" width="282.6" height="57.3" fill="none" stroke="#b23a2a" stroke-width="3.8"/>
<path d="M916.8 113 L928.7 104.5 L928.7 121.5 Z" fill="#b23a2a" stroke="#b23a2a" stroke-width="1" stroke-linejoin="round"/>
<path d="M928.8 113 L1012 111.6" stroke="#b23a2a" stroke-width="3.8" fill="none"/>
<circle cx="1040.1" cy="112" r="27.6" fill="#fff" stroke="#b23a2a" stroke-width="4.3"/>
<path d="M1607.5 115.1 L1619.4 106.6 L1619.4 123.6 Z" fill="#b23a2a" stroke="#b23a2a" stroke-width="1" stroke-linejoin="round"/>
<path d="M1619.5 115.1 L1686 114.8" stroke="#b23a2a" stroke-width="3.8" fill="none"/>
<circle cx="1713.3" cy="112" r="27.6" fill="#fff" stroke="#b23a2a" stroke-width="4.3"/>
<path d="M884.5 509.1 L896.4 500.6 L896.4 517.6 Z" fill="#b23a2a" stroke="#b23a2a" stroke-width="1" stroke-linejoin="round"/>
<path d="M896.5 509.1 L960.8 509.2" stroke="#b23a2a" stroke-width="3.8" fill="none"/>
<circle cx="996.8" cy="508.9" r="27.9" fill="#fff" stroke="#b23a2a" stroke-width="4.3"/>
<path d="M1040.3 96 L1046.7 96 L1046.7 129.5 L1038.8 129.5 L1038.8 105 L1032.4 109.4 L1029.3 104.4 Z" fill="#000"/>
<path d="M1312.20 793.60 H1318.00 V808.80 H1316.00 V795.40 H1312.20 Z" fill="#2e2e33"/>
<path d="M1319.20 793.60 H1325.00 V808.80 H1323.00 V795.40 H1319.20 Z" fill="#2e2e33"/>
<path d="M1458.30 861.10 H1464.10 V876.30 H1462.10 V862.90 H1458.30 Z" fill="#2e2e33"/>
<circle cx="1957" cy="890" r="36" fill="#5ab8b2"/>
<path d="M1974 921 Q1983 925.5 1989.6 927.2 Q1986 916 1986.5 905 Z" fill="#5ab8b2"/>
<circle cx="1945" cy="884.3" r="4" fill="#fff"/><circle cx="1968.5" cy="884.3" r="4" fill="#fff"/>
<path d="M1948.5 897.5 Q1957 904 1965.5 897.5" fill="none" stroke="#fff" stroke-width="4" stroke-linecap="round"/>
<g fill="none" stroke="#848aa4" stroke-width="2.0" stroke-linecap="round" stroke-linejoin="round" ><rect x="26.9" y="108.6" width="23" height="22.7" rx="3.6"/><path d="M26.9 116.2 H49.9 M33.3 116.2 V131.2"/></g>
<g fill="none" stroke="#848aa4" stroke-width="2.05" stroke-linecap="round" stroke-linejoin="round" ><circle cx="37.2" cy="175.2" r="9.4"/><path d="M44.1 182.3 L49.3 187.3"/></g>
<g fill="none" stroke="#848aa4" stroke-width="1.95" stroke-linecap="round" stroke-linejoin="round" ><circle cx="33.3" cy="226.7" r="4.5"/><path d="M25.3 241.6 C25.3 237.6 28.6 236.2 33.3 236.2 C38 236.2 40.7 237.6 40.7 241.6"/><circle cx="45.2" cy="228.2" r="3.2"/><path d="M45 234.4 C48.6 234.2 51.1 236.1 51.1 239"/></g>
<g fill="none" stroke="#848aa4" stroke-width="1.95" stroke-linecap="round" stroke-linejoin="round" ><rect x="26.8" y="280.1" width="19.6" height="20.2" rx="2.6"/><path d="M30.6 279.8 V278.2 Q30.6 276.3 32.6 276.3 H47.8 Q49.9 276.3 49.9 278.4 V294.6 Q49.9 296.6 47.9 296.6 H46.6"/><path d="M30.6 284.6 H42.6 M30.6 289.8 H42.6 M30.6 295 H38.2"/></g>
<g fill="none" stroke="#848aa4" stroke-width="2.1" stroke-linecap="round" stroke-linejoin="round" stroke-linecap="butt"><path d="M27.4 354.6 V350 M34.8 354.6 V347.2 M41.9 354.6 V349.6 M48.8 354.6 V346.6"/></g>
<g fill="none" stroke="#848aa4" stroke-width="1.6" stroke-linecap="round" stroke-linejoin="round" ><circle cx="27.4" cy="342" r="1.9"/><circle cx="34.8" cy="336.3" r="1.9"/><circle cx="41.9" cy="341.6" r="1.9"/><circle cx="48.8" cy="335.6" r="1.9"/><path d="M29 340.7 L33.2 337.6 M36.4 337.6 L40.3 340.4 M43.5 340.3 L47.3 337"/></g>
<g fill="none" stroke="#848aa4" stroke-width="1.95" stroke-linecap="round" stroke-linejoin="round" ><path d="M26 390.4 L28.9 392.8 L33.2 388.4"/><path d="M36.6 391.1 H50.5 M36.6 400.3 H50.5 M36.6 409.3 H50.5"/><circle cx="29.2" cy="400.3" r="2.5"/><circle cx="29.2" cy="409.3" r="2.5"/></g>
<g fill="none" stroke="#848aa4" stroke-width="1.85" stroke-linecap="round" stroke-linejoin="round" ><path d="M26.8 464 V456.5 Q26.8 451.9 31.5 451.9 H46 Q49.9 451.9 49.9 456 V464 Z"/><path d="M31.5 451.9 Q36.3 451.9 36.3 456.5 V464"/><path d="M40.8 457 V444.4 H46.6 V447.6 H40.8"/><path d="M36 464.3 V468.6 H40.6 V464.3"/><circle cx="31.8" cy="456.6" r="0.5"/></g>
<g fill="none" stroke="#848aa4" stroke-width="1.85" stroke-linecap="round" stroke-linejoin="round" ><ellipse cx="43" cy="505.6" rx="7" ry="3.2"/><path d="M50 505.6 V516.5 C50 518 47.5 519.3 44 519.6"/><path d="M50 511 C50 512.5 47.5 513.8 44 514.1"/><ellipse cx="34.9" cy="510.4" rx="7.9" ry="3.4"/><path d="M27 510.4 V518.6 C27 520.5 30.5 522 34.9 522 C39.3 522 42.8 520.5 42.8 518.6 V510.4"/><path d="M27 514.5 C27 516.4 30.5 517.9 34.9 517.9 C39.3 517.9 42.8 516.4 42.8 514.5"/></g>
<g fill="none" stroke="#3f9f97" stroke-width="2" stroke-linecap="round" stroke-linejoin="round" stroke-linejoin="miter"><path d="M32.3 579.8 V570.3 H39 V557.9 H46.6 V564.4 H52.3 V579.8 Z M39 570.3 V579.8 M46.6 564.4 V579.8"/></g>
<path transform="translate(886.32,602.70) scale(0.86)" d="M22 16.92v3a2 2 0 0 1-2.18 2 19.79 19.79 0 0 1-8.63-3.07 19.5 19.5 0 0 1-6-6 19.79 19.79 0 0 1-3.07-8.67A2 2 0 0 1 4.11 2h3a2 2 0 0 1 2 1.72 12.84 12.84 0 0 0 .7 2.81 2 2 0 0 1-.45 2.11L8.09 9.91a16 16 0 0 0 6 6l1.27-1.27a2 2 0 0 1 2.11-.45 12.84 12.84 0 0 0 2.81.7A2 2 0 0 1 22 16.92z" fill="none" stroke="#3fa06c" stroke-width="2.2" stroke-linecap="round" stroke-linejoin="round"/>
<g fill="none" stroke="#3fa06c" stroke-width="1.95" stroke-linecap="round" stroke-linejoin="round" ><circle cx="953.67" cy="612.7" r="8.4"/><path d="M950.17 613.1 L952.67 615.5 L957.38 610.5"/></g>
<g fill="none" stroke="#e0566a" stroke-width="1.95" stroke-linecap="round" stroke-linejoin="round" ><rect x="1030.95" y="606.5" width="17.6" height="13.6" rx="2.6"/><path d="M1031.75 609.22 L1039.75 614.66 L1047.75 609.22"/></g>
<g fill="none" stroke="#e0566a" stroke-width="1.95" stroke-linecap="round" stroke-linejoin="round" ><circle cx="1096.85" cy="612.7" r="8.4"/><path d="M1093.35 613.1 L1095.85 615.5 L1100.55 610.5"/></g>
<g fill="none" stroke="#c9992e" stroke-width="1.95" stroke-linecap="round" stroke-linejoin="round" ><path d="M1193.35 614.2 V606.4 Q1193.35 602.4 1189.35 602.4 H1176.75 Q1172.75 602.4 1172.75 606.4 V619 Q1172.75 623 1176.75 623 H1184.05"/></g>
<g fill="none" stroke="#c9992e" stroke-width="1.9" stroke-linecap="round" stroke-linejoin="round" ><path d="M1177.85 611.1 V617.7"/><path d="M1181.45 617.7 V611.1 M1181.45 614.1 C1181.45 610.3 1187.05 610.1 1187.05 613.9 V614.9"/><circle cx="1177.85" cy="607.9" r="0.5"/></g>
<g fill="none" stroke="#c9992e" stroke-width="1.9" stroke-linecap="round" stroke-linejoin="round" ><path d="M1189.45 617.7 V623.1 M1186.75 620.4 H1192.15"/></g>
<g fill="none" stroke="#c9992e" stroke-width="1.95" stroke-linecap="round" stroke-linejoin="round" ><circle cx="1239.95" cy="612.7" r="8.4"/><path d="M1236.45 613.1 L1238.95 615.5 L1243.65 610.5"/></g>
<g fill="none" stroke="#4a66e6" stroke-width="1.95" stroke-linecap="round" stroke-linejoin="round" ><path d="M1336.25 614.2 V606.4 Q1336.25 602.4 1332.25 602.4 H1319.65 Q1315.65 602.4 1315.65 606.4 V619 Q1315.65 623 1319.65 623 H1326.95"/></g>
<g fill="none" stroke="#4a66e6" stroke-width="1.9" stroke-linecap="round" stroke-linejoin="round" ><path d="M1320.75 611.1 V617.7"/><path d="M1324.35 617.7 V611.1 M1324.35 614.1 C1324.35 610.3 1329.95 610.1 1329.95 613.9 V614.9"/><circle cx="1320.75" cy="607.9" r="0.5"/></g>
<g fill="none" stroke="#4a66e6" stroke-width="1.8" stroke-linecap="round" stroke-linejoin="round" ><rect x="1327.05" y="615.4" width="9.2" height="7.8" rx="1.95"/><path d="M1327.85 616.96 L1331.65 620.08 L1335.45 616.96"/></g>
<g fill="none" stroke="#4a66e6" stroke-width="1.95" stroke-linecap="round" stroke-linejoin="round" ><circle cx="1382.65" cy="612.7" r="8.4"/><path d="M1379.15 613.1 L1381.65 615.5 L1386.35 610.5"/></g>
<g fill="none" stroke="#8552e0" stroke-width="1.9" stroke-linecap="round" stroke-linejoin="round" ><path d="M1476.25 614.1 A7 7 0 1 0 1468.85 619.9"/><path d="M1471.95 610.1 L1469.95 613.7 L1466.55 615.5 L1468.55 611.9 Z"/></g>
<g fill="none" stroke="#8552e0" stroke-width="1.8" stroke-linecap="round" stroke-linejoin="round" ><rect x="1471.25" y="616.4" width="10.6" height="8.6" rx="2.15"/><path d="M1472.05 618.12 L1476.55 621.56 L1481.05 618.12"/></g>
<g fill="none" stroke="#8552e0" stroke-width="1.95" stroke-linecap="round" stroke-linejoin="round" ><circle cx="1525.65" cy="612.7" r="8.4"/><path d="M1522.15 613.1 L1524.65 615.5 L1529.35 610.5"/></g>
<g transform="translate(1622.30,612.70) rotate(-48) scale(0.94)" fill="none" stroke="#de6fcb" stroke-width="1.4" stroke-linecap="round" stroke-linejoin="round"><path d="M-9.5 -3 Q-9.5 -5 -7.5 -5 H4 L9.5 0 L4 5 H-7.5 Q-9.5 5 -9.5 3 Z"/><circle cx="4.6" cy="0" r="1"/><path d="M-4.2 -1.2 C-4.2 -2.8 -1.4 -2.6 -1.6 -0.9 C-1.8 0.4 -4.4 -0.2 -4.4 1.3 C-4.4 2.8 -1.6 2.8 -1.6 1.3 M-3 -3.2 V3.4"/><path d="M-6 7.2 H4.6 L7 5"/></g>
<g fill="none" stroke="#de6fcb" stroke-width="1.35" stroke-linecap="round" stroke-linejoin="round" ><path d="M1695.7 604.5 H1705.7 V610.2 C1705.7 613.9 1703.5 615.5 1700.7 615.5 C1697.9 615.5 1695.7 613.9 1695.7 610.2 Z"/><path d="M1695.7 606.7 H1692.4 V608.5 C1692.4 611.2 1693.9 612.4 1696.1 612.5"/><path d="M1705.7 606.7 H1709.0 V608.5 C1709.0 611.2 1707.5 612.4 1705.3 612.5"/><path d="M1700.7 615.5 V620.3 M1697.1 620.5 H1704.3"/></g>
<g fill="none" stroke="#56ab6a" stroke-width="1.3" stroke-linecap="round" stroke-linejoin="round"><ellipse cx="1812.3" cy="607.1" rx="5.3" ry="2.3"/><path d="M1817.6 607.1 V615.7 C1817.6 616.7 1815.9 617.5 1813.5 617.7"/><path d="M1817.6 611.3 C1817.6 612.3 1815.9 613.2 1813.5 613.4"/><ellipse cx="1806.3" cy="610.9" rx="6" ry="2.5"/><path d="M1800.3 610.9 V617.9 C1800.3 619.3 1803 620.4 1806.3 620.4 C1809.6 620.4 1812.3 619.3 1812.3 617.9 V610.9"/><path d="M1800.3 614.4 C1800.3 615.8 1803 616.9 1806.3 616.9 C1809.6 616.9 1812.3 615.8 1812.3 614.4"/></g>
<g fill="none" stroke="#56ab6a" stroke-width="1.35" stroke-linecap="round" stroke-linejoin="round" ><path d="M1882.9 604.5 H1892.9 V610.2 C1892.9 613.9 1890.7 615.5 1887.9 615.5 C1885.1 615.5 1882.9 613.9 1882.9 610.2 Z"/><path d="M1882.9 606.7 H1879.6 V608.5 C1879.6 611.2 1881.1 612.4 1883.3 612.5"/><path d="M1892.9 606.7 H1896.2 V608.5 C1896.2 611.2 1894.7 612.4 1892.5 612.5"/><path d="M1887.9 615.5 V620.3 M1884.3 620.5 H1891.5"/></g>
</svg>
<span class="t " style="left:1699.66px;top:85.00px;font-size:48.5px;line-height:48.5px;color:#000;transform:scaleX(1.0223);font-weight:700;">2</span>
<span class="t " style="left:983.59px;top:484.00px;font-size:48px;line-height:48px;color:#000;transform:scaleX(1.0101);font-weight:700;">3</span>
</div></body></html>
